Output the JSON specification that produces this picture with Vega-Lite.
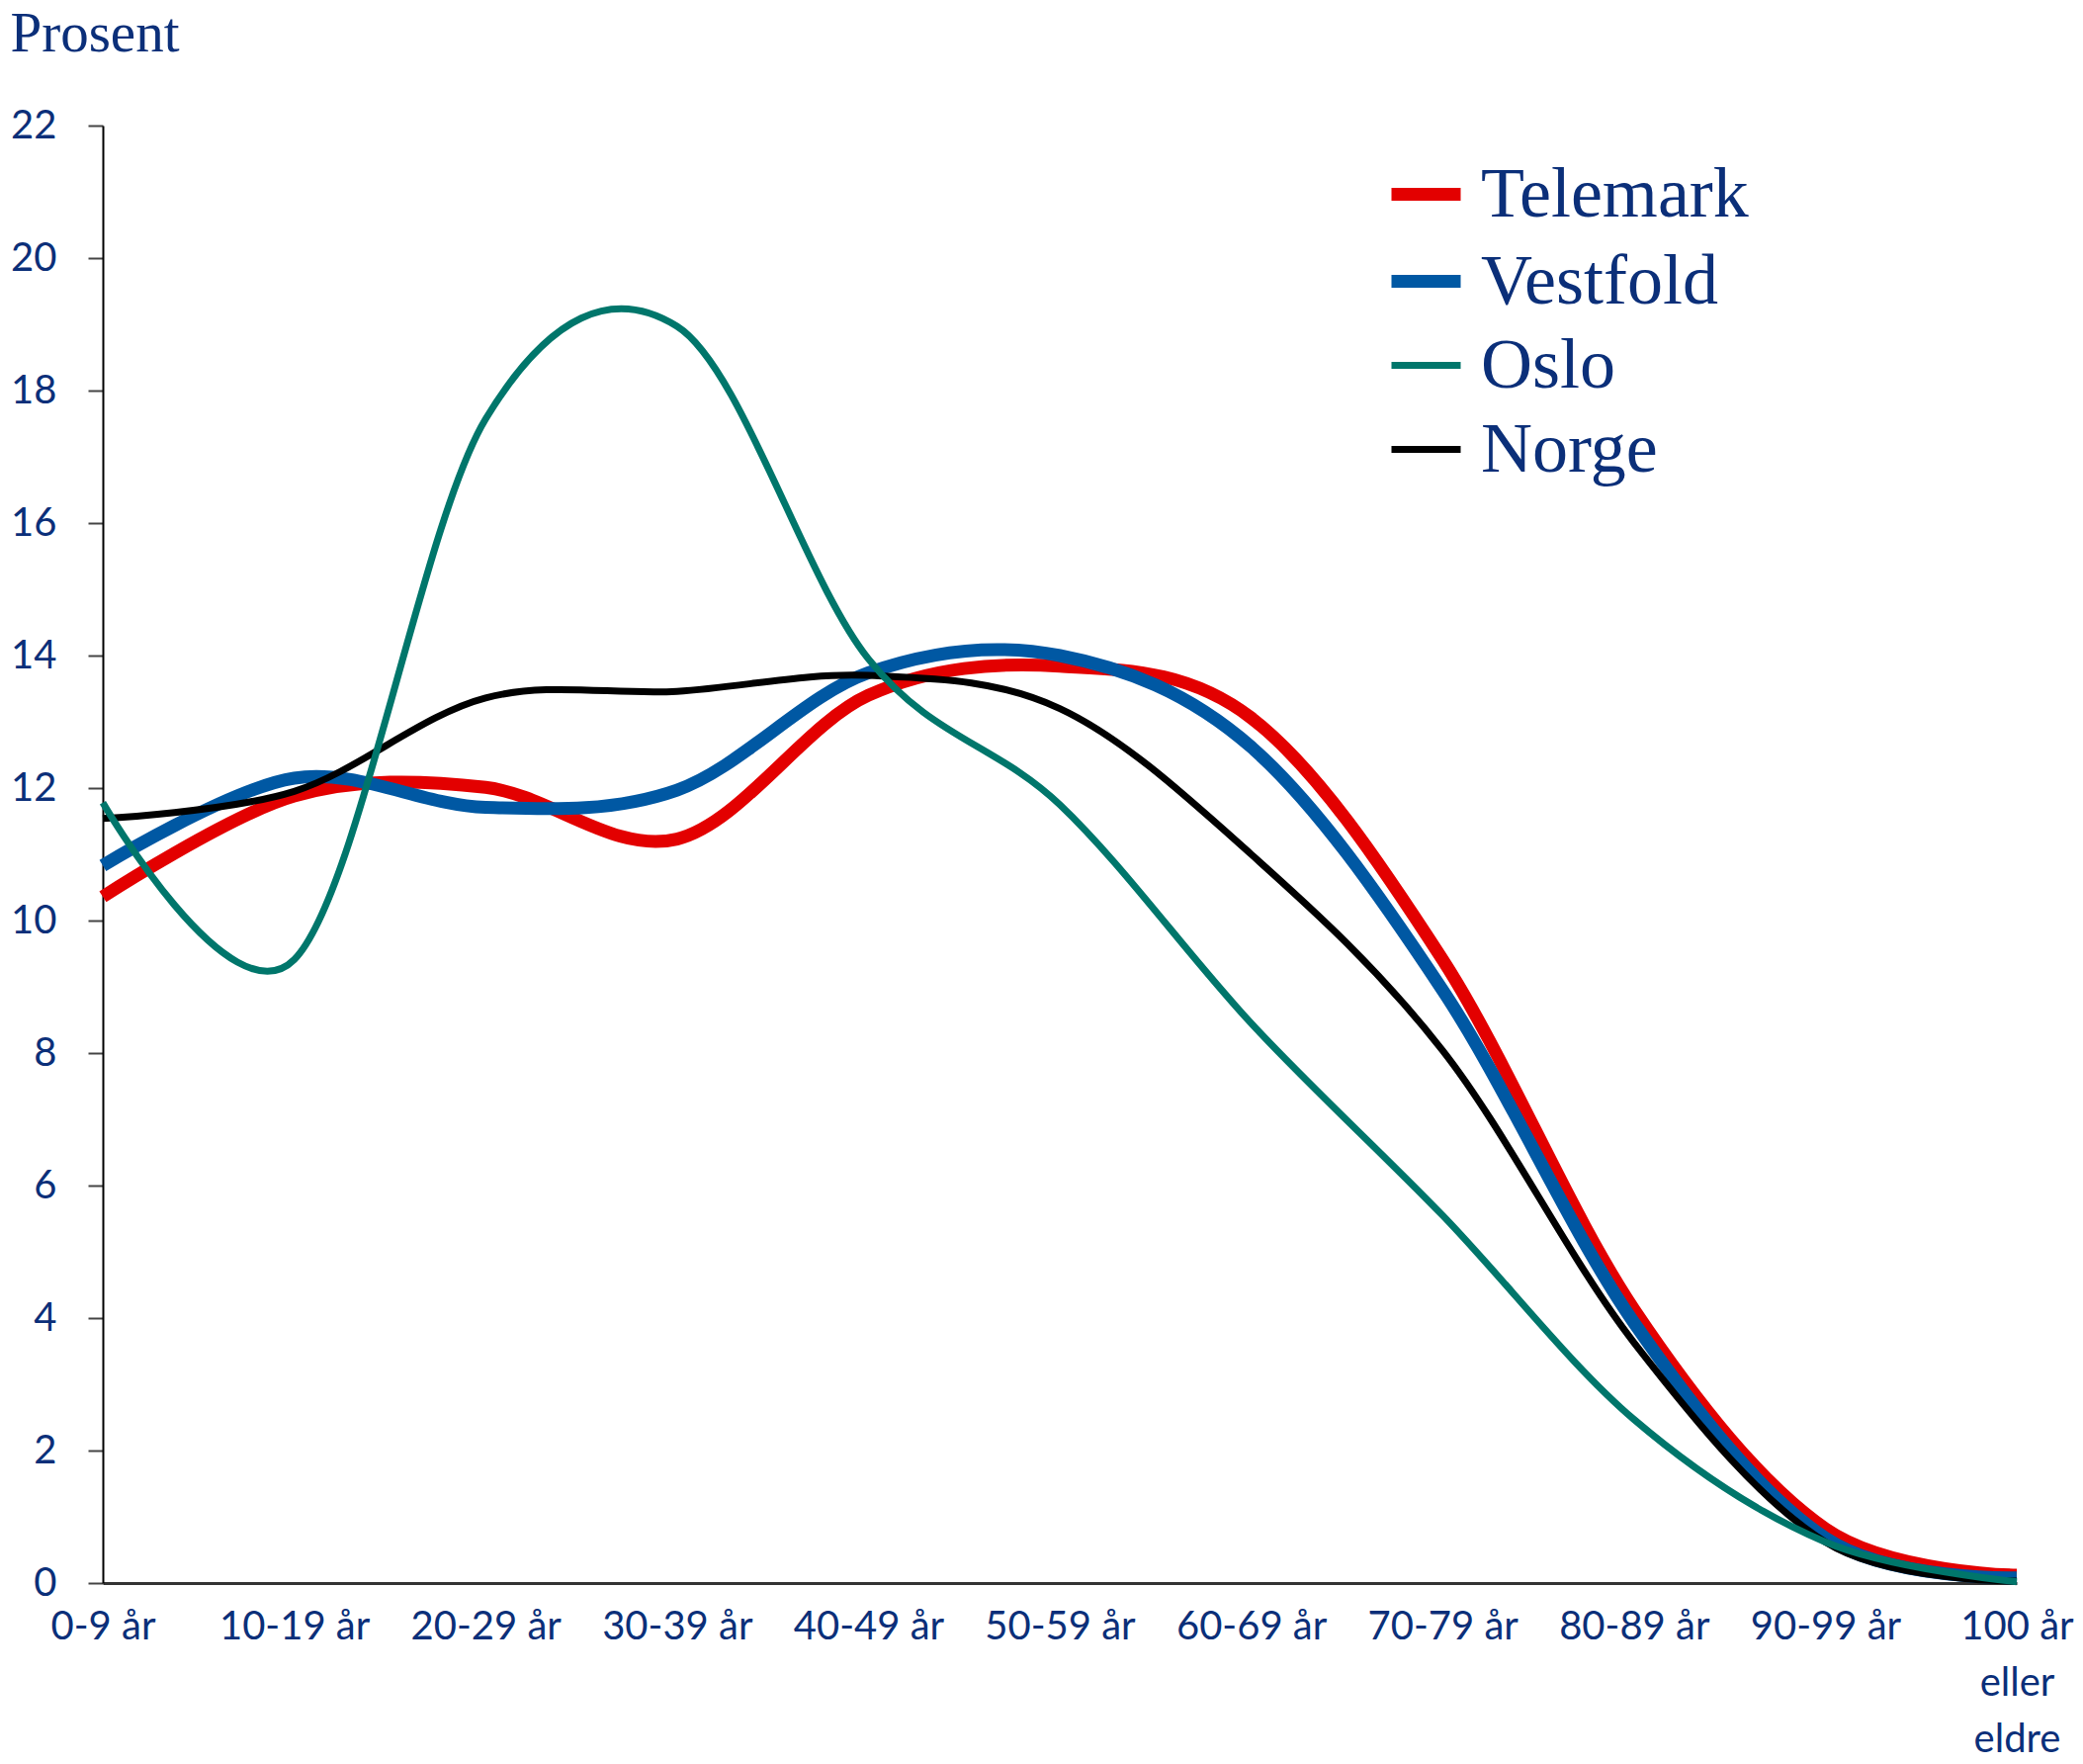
{
  "$schema": "https://vega.github.io/schema/vega-lite/v6.json",
  "autosize": "none",
  "width": 1936,
  "height": 1474,
  "padding": {"left": 104, "top": 127, "right": 67, "bottom": 183},
  "background": "white",
  "config": {"view": {"stroke": null}},
  "data": {"values": [
    {"region": "Telemark", "age": "0-9 år", "pct": 10.36},
    {"region": "Telemark", "age": "10-19 år", "pct": 11.88},
    {"region": "Telemark", "age": "20-29 år", "pct": 12.01},
    {"region": "Telemark", "age": "30-39 år", "pct": 11.23},
    {"region": "Telemark", "age": "40-49 år", "pct": 13.4},
    {"region": "Telemark", "age": "50-59 år", "pct": 13.84},
    {"region": "Telemark", "age": "60-69 år", "pct": 13.06},
    {"region": "Telemark", "age": "70-79 år", "pct": 9.41},
    {"region": "Telemark", "age": "80-89 år", "pct": 4.13},
    {"region": "Telemark", "age": "90-99 år", "pct": 0.82},
    {"region": "Telemark", "age": "100 år eller eldre", "pct": 0.12},
    {"region": "Vestfold", "age": "0-9 år", "pct": 10.83},
    {"region": "Vestfold", "age": "10-19 år", "pct": 12.15},
    {"region": "Vestfold", "age": "20-29 år", "pct": 11.71},
    {"region": "Vestfold", "age": "30-39 år", "pct": 11.97},
    {"region": "Vestfold", "age": "40-49 år", "pct": 13.74},
    {"region": "Vestfold", "age": "50-59 år", "pct": 14.0},
    {"region": "Vestfold", "age": "60-69 år", "pct": 12.62},
    {"region": "Vestfold", "age": "70-79 år", "pct": 8.95},
    {"region": "Vestfold", "age": "80-89 år", "pct": 3.93},
    {"region": "Vestfold", "age": "90-99 år", "pct": 0.68},
    {"region": "Vestfold", "age": "100 år eller eldre", "pct": 0.08},
    {"region": "Norge", "age": "0-9 år", "pct": 11.54},
    {"region": "Norge", "age": "10-19 år", "pct": 11.95},
    {"region": "Norge", "age": "20-29 år", "pct": 13.36},
    {"region": "Norge", "age": "30-39 år", "pct": 13.46},
    {"region": "Norge", "age": "40-49 år", "pct": 13.7},
    {"region": "Norge", "age": "50-59 år", "pct": 13.2},
    {"region": "Norge", "age": "60-69 år", "pct": 11.0},
    {"region": "Norge", "age": "70-79 år", "pct": 8.04},
    {"region": "Norge", "age": "80-89 år", "pct": 3.63},
    {"region": "Norge", "age": "90-99 år", "pct": 0.62},
    {"region": "Norge", "age": "100 år eller eldre", "pct": 0.03},
    {"region": "Oslo", "age": "0-9 år", "pct": 11.78},
    {"region": "Oslo", "age": "10-19 år", "pct": 9.41},
    {"region": "Oslo", "age": "20-29 år", "pct": 17.57},
    {"region": "Oslo", "age": "30-39 år", "pct": 18.97},
    {"region": "Oslo", "age": "40-49 år", "pct": 13.95},
    {"region": "Oslo", "age": "50-59 år", "pct": 11.75},
    {"region": "Oslo", "age": "60-69 år", "pct": 8.45},
    {"region": "Oslo", "age": "70-79 år", "pct": 5.55},
    {"region": "Oslo", "age": "80-89 år", "pct": 2.47},
    {"region": "Oslo", "age": "90-99 år", "pct": 0.62},
    {"region": "Oslo", "age": "100 år eller eldre", "pct": 0.02}
  ]},
  "mark": {"type": "line", "interpolate": "cardinal", "strokeCap": "butt", "strokeJoin": "round"},
  "encoding": {
    "x": {
      "field": "age", "type": "ordinal",
      "sort": ["0-9 år", "10-19 år", "20-29 år", "30-39 år", "40-49 år", "50-59 år", "60-69 år", "70-79 år", "80-89 år", "90-99 år", "100 år eller eldre"],
      "scale": {"type": "point", "padding": 0},
      "axis": {
        "title": null,
        "labelAngle": 0,
        "labelFont": "Lato",
        "labelFontSize": 40,
        "labelColor": "#0b2f79",
        "labelPadding": 24,
        "labelLineHeight": 57,
        "labelExpr": "datum.value == '100 år eller eldre' ? ['100 år', 'eller', 'eldre'] : datum.value",
        "ticks": false,
        "domainColor": "#333333",
        "domainWidth": 3,
        "grid": false,
        "labelOverlap": false
      }
    },
    "y": {
      "field": "pct", "type": "quantitative",
      "scale": {"domain": [0, 22], "nice": false},
      "axis": {
        "title": "Prosent",
        "titleFont": "Liberation Serif",
        "titleFontSize": 57,
        "titleFontWeight": "normal",
        "titleColor": "#0b2f79",
        "titleAngle": 0,
        "titleAlign": "left",
        "titleBaseline": "alphabetic",
        "titleX": -94,
        "titleY": -76,
        "values": [0, 2, 4, 6, 8, 10, 12, 14, 16, 18, 20, 22],
        "labelFont": "Lato",
        "labelFontSize": 40,
        "labelColor": "#0b2f79",
        "labelPadding": 32,
        "tickSize": 15,
        "tickColor": "#444444",
        "tickWidth": 2,
        "domainColor": "#000000",
        "domainWidth": 2,
        "grid": false
      }
    },
    "color": {
      "field": "region", "type": "nominal",
      "scale": {"domain": ["Telemark", "Vestfold", "Oslo", "Norge"], "range": ["#e30000", "#0058a3", "#00766b", "#000000"]},
      "legend": {
        "title": null,
        "orient": "none",
        "legendX": 1297,
        "legendY": 28,
        "padding": 0,
        "symbolType": "stroke",
        "symbolSize": 4900,
        "labelFont": "Liberation Serif",
        "labelFontSize": 72,
        "labelColor": "#0b2f79",
        "labelOffset": 14,
        "labelLimit": 600,
        "rowPadding": 10
      }
    },
    "strokeWidth": {
      "field": "region", "type": "nominal",
      "scale": {"type": "ordinal", "domain": ["Telemark", "Vestfold", "Oslo", "Norge"], "range": [13, 13, 7, 7]},
      "legend": {
        "title": null,
        "orient": "none",
        "legendX": 1297,
        "legendY": 28,
        "padding": 0,
        "symbolType": "stroke",
        "symbolSize": 4900,
        "labelFont": "Liberation Serif",
        "labelFontSize": 72,
        "labelColor": "#0b2f79",
        "labelOffset": 14,
        "labelLimit": 600,
        "rowPadding": 10
      }
    }
  }
}
